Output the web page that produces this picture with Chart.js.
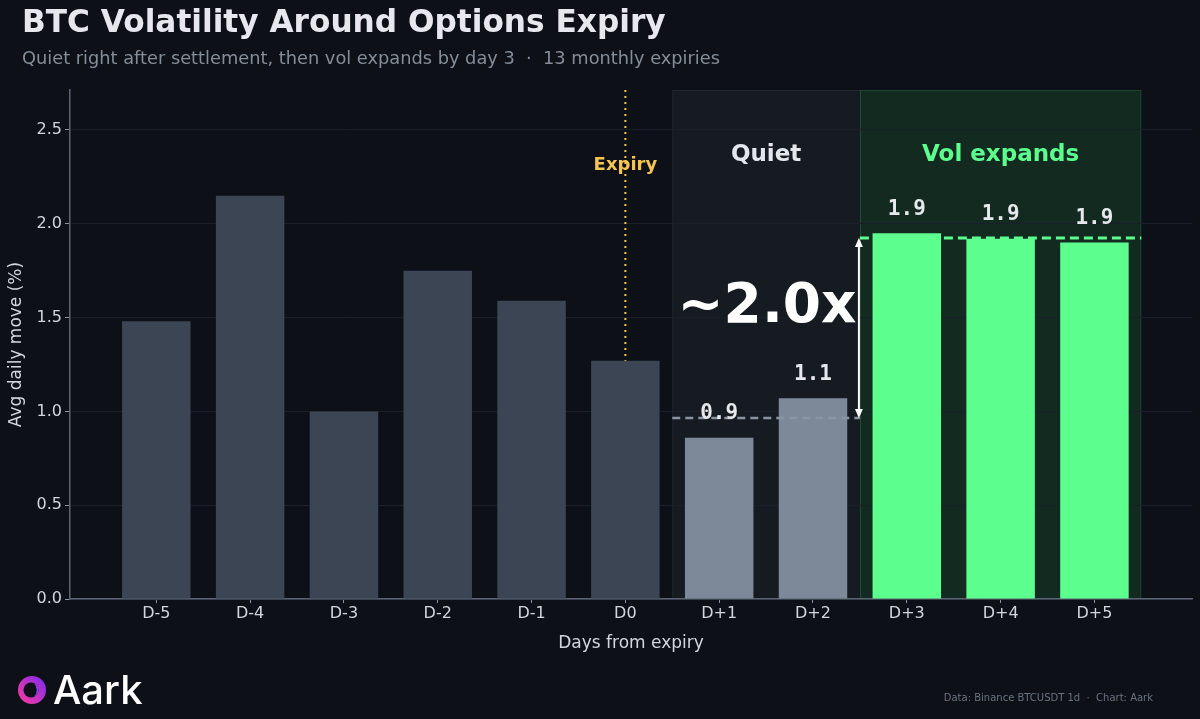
<!DOCTYPE html>
<html>
<head>
<meta charset="utf-8">
<script src="https://cdn.jsdelivr.net/npm/chart.js@4/dist/chart.umd.min.js"></script>
<style>
  html, body { margin: 0; padding: 0; background: #0d1117; }
  body { width: 1200px; height: 719px; position: relative; overflow: hidden; font-family: "DejaVu Sans", sans-serif; }
  #chart { position: absolute; left: 0; top: 0; }
  .title { position: absolute; left: 22px; top: 3px; font-size: 31.2px; line-height: 36px; font-weight: bold; color: #e6e8ee; white-space: nowrap; }
  .subtitle { position: absolute; left: 22px; top: 48px; font-size: 17.8px; line-height: 20px; color: #858d99; white-space: pre; }
  .footer { position: absolute; right: 47px; top: 691px; font-size: 10px; line-height: 13px; color: #6b7280; white-space: pre; }
  .logo { position: absolute; left: 17px; top: 666px; height: 48px; }
  .logo svg { position: absolute; left: 0; top: 9px; }
  .logo span { position: absolute; left: 36px; top: 0; font-family: Inter, sans-serif; font-weight: 500; font-size: 40px; line-height: 48px; color: #ffffff; }
</style>
</head>
<body>
<canvas id="chart" width="1200" height="719"></canvas>
<div class="title">BTC Volatility Around Options Expiry</div>
<div class="subtitle">Quiet right after settlement, then vol expands by day 3  ·  13 monthly expiries</div>
<div class="logo">
  <svg width="30" height="30" viewBox="0 0 30 30">
    <defs>
      <linearGradient id="lg" x1="0" y1="1" x2="1" y2="0">
        <stop offset="0" stop-color="#ff3a9d"/>
        <stop offset="1" stop-color="#7a2cf2"/>
      </linearGradient>
    </defs>
    <circle cx="15" cy="15" r="14" fill="url(#lg)"/>
    <circle cx="14" cy="15" r="7.5" fill="#0d1117"/>
    <path d="M17 8.5 A7 7 0 0 1 17 21.5 A9 9 0 0 0 17 8.5 Z" fill="#9b3cf5"/>
  </svg>
  <span>Aark</span>
</div>
<div class="footer">Data: Binance BTCUSDT 1d  ·  Chart: Aark</div>

<script>
// Data
const dayLabels = ["D-5", "D-4", "D-3", "D-2", "D-1", "D0", "D+1", "D+2", "D+3", "D+4", "D+5"];
const avgMove = [1.48, 2.15, 1.00, 1.75, 1.59, 1.27, 0.86, 1.07, 1.95, 1.92, 1.90];
const yTicks = [0, 0.5, 1.0, 1.5, 2.0, 2.5];
const expiryIndex = 5;
const quietIdx = [6, 7];
const expandIdx = [8, 9, 10];

// Colours
const BAR_PRE = "#3b4554";
const BAR_QUIET = "#7d8898";
const BAR_EXPAND = "#5cff8e";
const TEXT = "#d2d6dc";

const mean = (idx) => idx.reduce((s, i) => s + avgMove[i], 0) / idx.length;
const quietMean = mean(quietIdx);
const expandMean = mean(expandIdx);
const ratio = expandMean / quietMean;

const barColors = dayLabels.map((_, i) =>
  expandIdx.includes(i) ? BAR_EXPAND : quietIdx.includes(i) ? BAR_QUIET : BAR_PRE
);

Chart.defaults.font.family = "'DejaVu Sans', sans-serif";
Chart.defaults.color = TEXT;

const overlays = {
  id: "overlays",
  beforeDraw(chart) {
    const { ctx, chartArea: a, scales: { x } } = chart;
    const q0 = x.getPixelForValue(quietIdx[0] - 0.5);
    const q1 = x.getPixelForValue(quietIdx[quietIdx.length - 1] + 0.5);
    const e1 = x.getPixelForValue(expandIdx[expandIdx.length - 1] + 0.5);
    ctx.save();
    ctx.fillStyle = "#161b22";
    ctx.fillRect(q0, a.top, q1 - q0, a.bottom - a.top);
    ctx.fillStyle = "#132a20";
    ctx.fillRect(q1, a.top, e1 - q1, a.bottom - a.top);
    ctx.strokeStyle = "rgba(255,255,255,0.06)";
    ctx.lineWidth = 1;
    ctx.strokeRect(q0 + 0.5, a.top + 0.5, q1 - q0, a.bottom - a.top);
    ctx.strokeStyle = "rgba(92,255,142,0.12)";
    ctx.strokeRect(q1 + 0.5, a.top + 0.5, e1 - q1 - 1, a.bottom - a.top);
    ctx.restore();
  },
  beforeDatasetsDraw(chart) {
    const { ctx, chartArea: a, scales: { x, y } } = chart;
    const ex = x.getPixelForValue(expiryIndex);
    ctx.save();
    ctx.strokeStyle = "#f2c14e";
    ctx.lineWidth = 2;
    ctx.setLineDash([2, 4]);
    ctx.beginPath();
    ctx.moveTo(ex, a.top);
    ctx.lineTo(ex, a.bottom);
    ctx.stroke();
    ctx.setLineDash([]);
    ctx.fillStyle = "#f5c451";
    ctx.font = "bold 18px 'DejaVu Sans'";
    ctx.textAlign = "center";
    ctx.textBaseline = "middle";
    ctx.fillText("Expiry", ex, y.getPixelForValue(2.31));

    ctx.font = "bold 23px 'DejaVu Sans'";
    ctx.fillStyle = "#e3e6ea";
    ctx.fillText("Quiet", x.getPixelForValue((quietIdx[0] + quietIdx[1]) / 2), y.getPixelForValue(2.365));
    ctx.fillStyle = BAR_EXPAND;
    ctx.fillText("Vol expands", x.getPixelForValue(expandIdx[1]), y.getPixelForValue(2.365));
    ctx.restore();
  },
  afterDatasetsDraw(chart) {
    const { ctx, scales: { x, y } } = chart;
    const q0 = x.getPixelForValue(quietIdx[0] - 0.5);
    const q1 = x.getPixelForValue(quietIdx[quietIdx.length - 1] + 0.5);
    const e1 = x.getPixelForValue(expandIdx[expandIdx.length - 1] + 0.5);
    const qy = Math.round(y.getPixelForValue(quietMean));
    const ey = Math.round(y.getPixelForValue(expandMean));
    ctx.save();
    // mean lines
    ctx.lineWidth = 2.5;
    ctx.strokeStyle = "#8a94a3";
    ctx.setLineDash([8, 5]);
    ctx.beginPath();
    ctx.moveTo(q0, qy);
    ctx.lineTo(q1, qy);
    ctx.stroke();
    ctx.lineWidth = 3;
    ctx.strokeStyle = BAR_EXPAND;
    ctx.setLineDash([9, 5]);
    ctx.beginPath();
    ctx.moveTo(q1, ey);
    ctx.lineTo(e1, ey);
    ctx.stroke();
    ctx.setLineDash([]);

    // double arrow between the means
    const ax = q1 - 1;
    ctx.strokeStyle = "#ffffff";
    ctx.fillStyle = "#ffffff";
    ctx.lineWidth = 2;
    ctx.beginPath();
    ctx.moveTo(ax, qy - 6);
    ctx.lineTo(ax, ey + 6);
    ctx.stroke();
    ctx.beginPath();
    ctx.moveTo(ax, ey);
    ctx.lineTo(ax - 4, ey + 9);
    ctx.lineTo(ax + 4, ey + 9);
    ctx.closePath();
    ctx.fill();
    ctx.beginPath();
    ctx.moveTo(ax, qy);
    ctx.lineTo(ax - 4, qy - 9);
    ctx.lineTo(ax + 4, qy - 9);
    ctx.closePath();
    ctx.fill();

    // value labels on post-expiry bars
    ctx.font = "bold 21px 'DejaVu Sans Mono'";
    ctx.fillStyle = "#e6e8eb";
    ctx.textAlign = "center";
    ctx.textBaseline = "middle";
    quietIdx.concat(expandIdx).forEach((i) => {
      ctx.fillText(avgMove[i].toFixed(1), x.getPixelForValue(i), y.getPixelForValue(avgMove[i]) - 24);
    });

    // ratio callout
    ctx.font = "bold 55px 'DejaVu Sans'";
    ctx.fillStyle = "#ffffff";
    ctx.fillText("~" + ratio.toFixed(1) + "x", x.getPixelForValue(6.51), y.getPixelForValue(1.555));
    ctx.restore();
  },
};

new Chart(document.getElementById("chart"), {
  type: "bar",
  data: {
    datasets: [
      {
        data: avgMove.map((v, i) => ({ x: i, y: v })),
        backgroundColor: barColors,
        borderWidth: 0,
        barPercentage: 0.73,
        categoryPercentage: 1,
      },
    ],
  },
  options: {
    responsive: false,
    animation: false,
    layout: { padding: { top: 90, right: 8, bottom: 63, left: 0 } },
    plugins: { legend: { display: false }, tooltip: { enabled: false } },
    scales: {
      x: {
        type: "linear",
        offset: false,
        min: -0.92,
        max: 11.04,
        afterBuildTicks: (s) => {
          s.ticks = dayLabels.map((_, i) => ({ value: i }));
        },
        afterFit: (s) => {
          s.height = 57;
        },
        ticks: {
          callback: (v) => dayLabels[v],
          color: TEXT,
          font: { size: 16 },
          padding: 1,
          maxRotation: 0,
        },
        grid: { offset: false, drawOnChartArea: false, color: "#8b93a0", tickColor: "#8b93a0", tickLength: 4 },
        border: { color: "#5b6472", width: 1.5 },
        title: { display: true, text: "Days from expiry", color: TEXT, font: { size: 17 }, padding: { top: 4, bottom: 2 } },
      },
      y: {
        min: 0,
        max: 2.713,
        afterBuildTicks: (s) => {
          s.ticks = yTicks.map((v) => ({ value: v }));
        },
        afterFit: (s) => {
          s.width = 70;
        },
        ticks: {
          callback: (v) => v.toFixed(1),
          color: TEXT,
          font: { size: 16 },
          padding: 3,
        },
        grid: { color: "#1a2029", tickColor: "#8b93a0", tickLength: 5 },
        border: { color: "#5b6472", width: 1.5 },
        title: { display: true, text: "Avg daily move (%)", color: TEXT, font: { size: 17 }, padding: { top: 6, bottom: 4 } },
      },
    },
  },
  plugins: [overlays],
});
</script>
</body>
</html>
